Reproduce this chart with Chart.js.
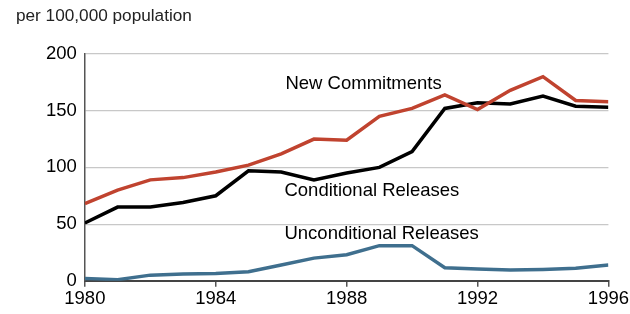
<!DOCTYPE html>
<html lang="en">
<head>
  <meta charset="UTF-8">
  <title>Rates per 100,000 population</title>
  <style>
    body {
      margin: 0;
      padding: 0;
      background: #fff;
      overflow: hidden;
    }
    .chart-box {
      width: 630px;
      height: 314px;
      position: relative;
    }
  </style>
</head>
<body>
  <div class="chart-box">
    <canvas id="chart"></canvas>
  </div>

  <script src="https://cdn.jsdelivr.net/npm/chart.js"></script>
  <script>
    // Dados (por 100.000 habitantes)
    const years = [1980, 1981, 1982, 1983, 1984, 1985, 1986, 1987, 1988, 1989, 1990, 1991, 1992, 1993, 1994, 1995, 1996];
    const newCommitments = [68, 80, 89, 91, 96, 102, 112, 125, 124, 145, 152, 164, 151, 168, 180, 159, 158];
    const conditionalReleases = [51, 65, 65, 69, 75, 97, 96, 89, 95, 100, 114, 152, 157, 156, 163, 154, 153];
    const unconditionalReleases = [2, 1, 5, 6, 6.5, 8, 14, 20, 23, 31, 31, 11.5, 10.5, 9.5, 10, 11, 14];
    const yTicks = [0, 50, 100, 150, 200];
    const xTicks = [1980, 1984, 1988, 1992, 1996];

    const seriesNames = ['New Commitments', 'Conditional Releases', 'Unconditional Releases'];
    const unitLabel = 'per 100,000 population';

    const FONT = '"Liberation Sans", Arial, sans-serif';

    function toPoints(values) {
      return years.map((y, i) => ({ x: y, y: values[i] }));
    }

    // Rótulos desenhados junto das linhas, ancorados nas escalas
    const labelPlugin = {
      id: 'seriesLabels',
      afterDatasetsDraw(chart) {
        const { ctx, scales } = chart;
        const anchors = [
          { text: seriesNames[0], year: 1986.13, value: 169 },
          { text: seriesNames[1], year: 1986.1, value: 74.5 },
          { text: seriesNames[2], year: 1986.1, value: 37 }
        ];
        ctx.save();
        ctx.fillStyle = '#000';
        ctx.font = '18.5px ' + FONT;
        ctx.textBaseline = 'alphabetic';
        ctx.textAlign = 'left';
        anchors.forEach(a => {
          ctx.fillText(a.text, scales.x.getPixelForValue(a.year), scales.y.getPixelForValue(a.value));
        });
        // título da unidade
        ctx.font = '17.2px ' + FONT;
        ctx.fillStyle = '#222';
        ctx.fillText(unitLabel, 16, 21);
        ctx.restore();
      }
    };

    const ctx = document.getElementById('chart').getContext('2d');
    new Chart(ctx, {
      type: 'line',
      data: {
        datasets: [
          {
            label: seriesNames[0],
            data: toPoints(newCommitments),
            borderColor: '#c0432f',
            borderWidth: 3.5,
            pointRadius: 0,
            tension: 0
          },
          {
            label: seriesNames[1],
            data: toPoints(conditionalReleases),
            borderColor: '#000000',
            borderWidth: 3.5,
            pointRadius: 0,
            tension: 0
          },
          {
            label: seriesNames[2],
            data: toPoints(unconditionalReleases),
            borderColor: '#3f6f8e',
            borderWidth: 3.5,
            pointRadius: 0,
            tension: 0
          }
        ]
      },
      options: {
        responsive: true,
        maintainAspectRatio: false,
        animation: false,
        layout: {
          padding: { top: 54, left: 38, right: 0, bottom: 3 }
        },
        plugins: {
          legend: { display: false },
          tooltip: { enabled: false }
        },
        scales: {
          x: {
            type: 'linear',
            min: 1980,
            max: 1996,
            afterBuildTicks(axis) {
              axis.ticks = xTicks.map(v => ({ value: v }));
            },
            ticks: {
              color: '#000',
              font: { family: FONT, size: 18.5 },
              padding: 1,
              maxRotation: 0,
              callback: v => String(v)
            },
            grid: {
              drawOnChartArea: false,
              drawTicks: true,
              tickLength: 6,
              color: '#555',
              lineWidth: 1.5
            },
            border: { display: true, color: '#444', width: 2 }
          },
          y: {
            min: 0,
            max: 200,
            afterBuildTicks(axis) {
              axis.ticks = yTicks.map(v => ({ value: v }));
            },
            ticks: {
              color: '#000',
              font: { family: FONT, size: 18.5 },
              padding: 8
            },
            grid: {
              drawTicks: false,
              color: '#c8c8c8',
              lineWidth: 1.2
            },
            border: { display: true, color: '#555', width: 1.5 }
          }
        }
      },
      plugins: [labelPlugin]
    });
  </script>
</body>
</html>
